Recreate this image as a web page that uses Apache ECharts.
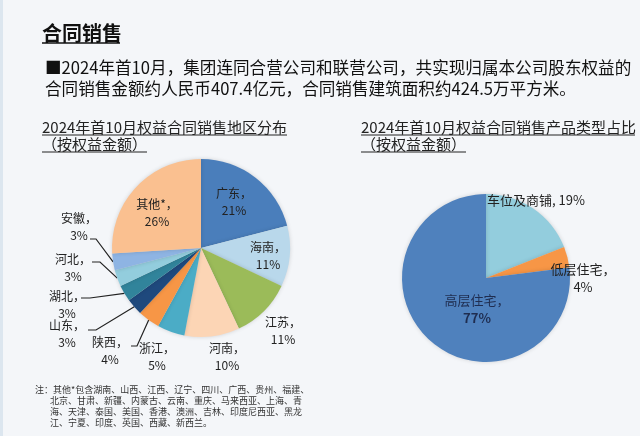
<!DOCTYPE html>
<html>
<head>
<meta charset="utf-8">
<script src="https://cdn.jsdelivr.net/npm/echarts@6/dist/echarts.min.js"></script>
<style>
  html, body { margin: 0; padding: 0; background: #f4f6f9; }
  #main { width: 640px; height: 436px; }
</style>
</head>
<body>
<div id="main"></div>
<script>
// 地区分布 (按权益金额, %)
var regionNames = ['广东', '海南', '江苏', '河南', '浙江', '陕西', '山东', '湖北', '河北', '安徽', '其他*'];
var regionValues = [21, 11, 11, 10, 5, 4, 3, 3, 3, 3, 26];
var regionColors = ['#4a7ebb', '#b9d8eb', '#9bbb59', '#fcd5b5', '#4bacc6', '#f79646',
                    '#1f497d', '#31849b', '#93cddd', '#8eb4e3', '#fac090'];

// 产品类型占比 (%)
var productNames = ['车位及商铺', '低层住宅', '高层住宅'];
var productValues = [19, 4, 77];
var productColors = ['#93cddd', '#f79646', '#4f81bd'];

// label placement (center of each label block) and leader line bends
var regionLabelPos = [[234, 202], [268, 256], [283, 331], [227, 357], [157, 357], [110, 351],
                      [67, 334], [67, 305], [73, 268], [79, 227], [157, 213]];
var regionLineBend = [null, null, null, null, null,
                      [[137, 346], [131, 346]],
                      [[96, 330], [88, 330]],
                      [[90, 298], [81, 298]],
                      [[100, 262], [92, 262]],
                      [[96, 239], [90, 239]],
                      null];
var productLabelPos = [[487, 200], [583, 278], [477, 309]];

var FONT = "'Noto Sans CJK SC', 'Noto Sans', sans-serif";

var chart = echarts.init(document.getElementById('main'));

function regionData() {
  return regionNames.map(function (n, i) {
    var item = { name: n, value: regionValues[i], itemStyle: { color: regionColors[i] } };
    if (!regionLineBend[i]) item.labelLine = { show: false };
    return item;
  });
}

function productData() {
  return productNames.map(function (n, i) {
    var item = { name: n, value: productValues[i], itemStyle: { color: productColors[i] }, labelLine: { show: false } };
    if (i === 2) item.label = { color: '#1f2d50' };
    return item;
  });
}

var option = {
  backgroundColor: '#f4f6f9',
  animation: false,
  graphic: [
    { type: 'rect', shape: { x: 0, y: 0, width: 3, height: 436 }, style: { fill: '#dce6ef' } },
    { type: 'text', x: 42, y: 33, style: { text: '合同销售', font: 'bold 20px ' + FONT, fill: '#111', verticalAlign: 'middle' } },
    { type: 'line', shape: { x1: 42, y1: 43, x2: 120, y2: 43 }, style: { stroke: '#111', lineWidth: 1.5 } },
    { type: 'text', x: 45, y: 68, style: { text: '■2024年首10月，集团连同合营公司和联营公司，共实现归属本公司股东权益的', font: '16.6px ' + FONT, fill: '#111', verticalAlign: 'middle' } },
    { type: 'text', x: 45, y: 89, style: { text: '合同销售金额约人民币407.4亿元，合同销售建筑面积约424.5万平方米。', font: '16.6px ' + FONT, fill: '#111', verticalAlign: 'middle' } },

    { type: 'text', x: 42, y: 127, style: { text: '2024年首10月权益合同销售地区分布', font: '15px ' + FONT, fill: '#222', verticalAlign: 'middle' } },
    { type: 'line', shape: { x1: 42, y1: 135, x2: 287, y2: 135 }, style: { stroke: '#222', lineWidth: 1 } },
    { type: 'text', x: 42, y: 144, style: { text: '（按权益金额）', font: '15px ' + FONT, fill: '#222', verticalAlign: 'middle' } },
    { type: 'line', shape: { x1: 42, y1: 152, x2: 147, y2: 152 }, style: { stroke: '#222', lineWidth: 1 } },

    { type: 'text', x: 361, y: 127, style: { text: '2024年首10月权益合同销售产品类型占比', font: '15px ' + FONT, fill: '#222', verticalAlign: 'middle' } },
    { type: 'line', shape: { x1: 361, y1: 135, x2: 635, y2: 135 }, style: { stroke: '#222', lineWidth: 1 } },
    { type: 'text', x: 361, y: 144, style: { text: '（按权益金额）', font: '15px ' + FONT, fill: '#222', verticalAlign: 'middle' } },
    { type: 'line', shape: { x1: 361, y1: 152, x2: 466, y2: 152 }, style: { stroke: '#222', lineWidth: 1 } },

    { type: 'text', x: 35, y: 390, style: { text: '注：其他*包含湖南、山西、江西、辽宁、四川、广西、贵州、福建、', font: '9px ' + FONT, fill: '#333', verticalAlign: 'middle' } },
    { type: 'text', x: 50, y: 401, style: { text: '北京、甘肃、新疆、内蒙古、云南、重庆、马来西亚、上海、青', font: '9px ' + FONT, fill: '#333', verticalAlign: 'middle' } },
    { type: 'text', x: 50, y: 412, style: { text: '海、天津、泰国、美国、香港、澳洲、吉林、印度尼西亚、黑龙', font: '9px ' + FONT, fill: '#333', verticalAlign: 'middle' } },
    { type: 'text', x: 50, y: 423, style: { text: '江、宁夏、印度、英国、西藏、新西兰。', font: '9px ' + FONT, fill: '#333', verticalAlign: 'middle' } }
  ],
  series: [
    {
      name: '地区分布',
      type: 'pie',
      center: [201, 248],
      radius: [0, 89],
      startAngle: 90,
      clockwise: true,
      avoidLabelOverlap: false,
      itemStyle: { shadowBlur: 4, shadowColor: 'rgba(0,0,0,0.15)' },
      label: {
        show: true,
        position: 'outside',
        fontFamily: FONT,
        fontSize: 12,
        lineHeight: 17,
        color: '#222',
        formatter: function (p) { return p.name + '，\n' + p.value + '%'; }
      },
      labelLine: { show: true, lineStyle: { color: '#222', width: 1.2 } },
      labelLayout: function (params) {
        var i = params.dataIndex;
        var p = regionLabelPos[i];
        var out = { x: p[0], y: p[1], align: 'center', verticalAlign: 'middle' };
        var b = regionLineBend[i];
        if (b && params.labelLinePoints) {
          out.labelLinePoints = [params.labelLinePoints[0], b[0], b[1]];
        }
        return out;
      },
      data: regionData()
    },
    {
      name: '产品类型',
      type: 'pie',
      center: [486, 278],
      radius: [0, 84],
      startAngle: 90,
      clockwise: true,
      avoidLabelOverlap: false,
      itemStyle: { shadowBlur: 4, shadowColor: 'rgba(0,0,0,0.15)' },
      label: {
        show: true,
        position: 'outside',
        fontFamily: FONT,
        fontSize: 13,
        lineHeight: 18,
        color: '#222',
        formatter: function (p) {
          if (p.dataIndex === 0) return p.name + ', ' + p.value + '%';
          if (p.dataIndex === 2) return p.name + '，\n{b|' + p.value + '%}';
          return p.name + '，\n' + p.value + '%';
        },
        rich: { b: { fontFamily: FONT, fontSize: 13, fontWeight: 'bold', color: '#1f2d50', lineHeight: 18 } }
      },
      labelLayout: function (params) {
        var i = params.dataIndex;
        var p = productLabelPos[i];
        return { x: p[0], y: p[1], align: i === 0 ? 'left' : 'center', verticalAlign: 'middle' };
      },
      data: productData()
    }
  ]
};

chart.setOption(option);
</script>
</body>
</html>
